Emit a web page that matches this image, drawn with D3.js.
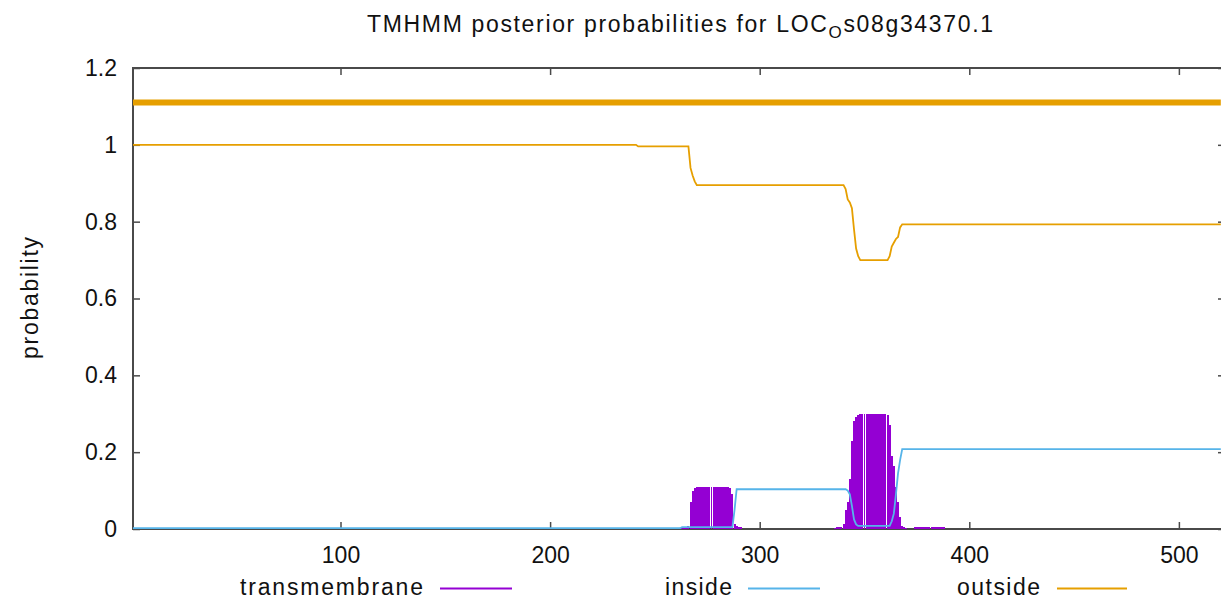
<!DOCTYPE html>
<html>
<head>
<meta charset="utf-8">
<script src="https://cdn.jsdelivr.net/npm/d3@7"></script>
<style>
  body { margin: 0; background: #ffffff; }
  svg { display: block; }
</style>
</head>
<body>
<svg id="chart" width="1221" height="600"></svg>
<script>
// ---- data -------------------------------------------------------------
const proteinId = "LOC_Os08g34370.1";
const seqLength = 520;
const xTicks = [100, 200, 300, 400, 500];
const yTicks = [0, 0.2, 0.4, 0.6, 0.8, 1, 1.2];
const yTickLabels = ["0", "0.2", "0.4", "0.6", "0.8", "1", "1.2"];
const seriesNames = ["transmembrane", "inside", "outside"];
const seriesColors = ["#9400D3", "#56B4E9", "#E69F00"];

// predicted topology, drawn as a bar above the curves
const topoRegions = [{ label: "outside", start: 1, end: 520 }];
const topoLevel = 1.11;

// transmembrane posterior per residue [residue, probability]; unlisted residues are 0
const tmProb = [
  [262, 0.003], [263, 0.004], [264, 0.005], [265, 0.005], [266, 0.008],
  [267, 0.07], [268, 0.1], [269, 0.108], [270, 0.11], [271, 0.11],
  [272, 0.11], [273, 0.11], [274, 0.11], [275, 0.11], [276, 0.11],
  [277, 0.11], [278, 0.11], [279, 0.11], [280, 0.11], [281, 0.11],
  [282, 0.11], [283, 0.11], [284, 0.11], [285, 0.11], [286, 0.108],
  [287, 0.09], [288, 0.012], [289, 0.008], [290, 0.006], [291, 0.004],
  [336, 0.003], [337, 0.004], [338, 0.004], [339, 0.006], [340, 0.012],
  [341, 0.05], [342, 0.07], [343, 0.13], [344, 0.23], [345, 0.28],
  [346, 0.292], [347, 0.298], [348, 0.299], [349, 0.299], [350, 0.299],
  [351, 0.299], [352, 0.299], [353, 0.299], [354, 0.299], [355, 0.299],
  [356, 0.299], [357, 0.299], [358, 0.299], [359, 0.299], [360, 0.299],
  [361, 0.296], [362, 0.27], [363, 0.19], [364, 0.165], [365, 0.11],
  [366, 0.07], [367, 0.03], [368, 0.008], [369, 0.005], [370, 0.003],
  [374, 0.004], [375, 0.004], [376, 0.004], [377, 0.004], [378, 0.004],
  [379, 0.004], [380, 0.004], [381, 0.004], [382, 0.004], [383, 0.004],
  [384, 0.004], [385, 0.004], [386, 0.004], [387, 0.004], [388, 0.004]
];

// inside posterior [residue, probability]
const insideProb = [
  [1, 0.002], [262, 0.002], [263, 0.005], [287, 0.005], [288, 0.05],
  [289, 0.1035], [341, 0.1035], [342, 0.1], [343, 0.09], [344, 0.06],
  [345, 0.025], [346, 0.012], [347, 0.008], [362, 0.008], [363, 0.02],
  [364, 0.04], [365, 0.09], [366, 0.145], [367, 0.18], [368, 0.208],
  [520, 0.208]
];

// outside posterior [residue, probability]
const outsideProb = [
  [1, 1.0], [241, 1.0], [242, 0.996], [266, 0.996], [267, 0.94],
  [268, 0.92], [269, 0.905], [270, 0.895], [340, 0.895], [341, 0.885],
  [342, 0.858], [343, 0.85], [344, 0.835], [345, 0.78], [346, 0.73],
  [347, 0.71], [348, 0.70], [361, 0.70], [362, 0.71], [363, 0.735],
  [364, 0.745], [365, 0.755], [366, 0.76], [367, 0.785], [368, 0.793],
  [520, 0.793]
];

// ---- layout -----------------------------------------------------------
const font = "'Liberation Sans', Arial, Helvetica, sans-serif";
const fontSize = 23;
const axisColor = "#4a4a4a";
const plot = { left: 133, right: 1225, top: 68, bottom: 529 };

const svg = d3.select("#chart");
svg.append("rect").attr("width", 1221).attr("height", 600).attr("fill", "#ffffff");

const x = d3.scaleLinear().domain([1, 522]).range([plot.left, plot.right]);
const y = d3.scaleLinear().domain([0, 1.2]).range([plot.bottom, plot.top]);

svg.append("clipPath").attr("id", "plot-clip")
  .append("rect")
  .attr("x", plot.left).attr("y", plot.top)
  .attr("width", plot.right - plot.left).attr("height", plot.bottom - plot.top);

// ---- axes (ticks point inward on all four sides) ------------------------
function styleAxis(g) {
  g.attr("font-family", font).attr("font-size", fontSize);
  g.select(".domain").remove();
  g.selectAll(".tick line").attr("stroke", axisColor).attr("stroke-width", 1.5);
  g.selectAll(".tick text").attr("fill", "#111");
}

const gBottom = svg.append("g")
  .attr("transform", `translate(0,${plot.bottom})`)
  .call(d3.axisBottom(x).tickValues(xTicks).tickSize(-7).tickFormat(d3.format("d")))
  .call(styleAxis);
gBottom.selectAll(".tick text").attr("y", 34).attr("dy", null);

svg.append("g")
  .attr("transform", `translate(0,${plot.top})`)
  .call(d3.axisTop(x).tickValues(xTicks).tickSize(-7).tickFormat(""))
  .call(styleAxis);

svg.append("g")
  .attr("transform", `translate(${plot.left},0)`)
  .call(d3.axisLeft(y).tickValues(yTicks).tickSize(-7).tickPadding(16)
    .tickFormat((d, i) => yTickLabels[i]))
  .call(styleAxis);

svg.append("g")
  .attr("transform", `translate(${plot.right},0)`)
  .call(d3.axisRight(y).tickValues(yTicks).tickSize(-7).tickFormat(""))
  .call(styleAxis);

svg.append("rect")
  .attr("x", plot.left).attr("y", plot.top)
  .attr("width", plot.right - plot.left).attr("height", plot.bottom - plot.top)
  .attr("fill", "none").attr("stroke", axisColor).attr("stroke-width", 2);

// ---- data layer -----------------------------------------------------------
const layer = svg.append("g").attr("clip-path", "url(#plot-clip)");

// transmembrane probability as impulses
const impulseWidth = 1.95;
layer.append("g")
  .attr("shape-rendering", "crispEdges")
  .selectAll("rect")
  .data(tmProb)
  .join("rect")
  .attr("x", d => x(d[0]) - impulseWidth / 2)
  .attr("width", impulseWidth)
  .attr("y", d => y(d[1]))
  .attr("height", d => y(0) - y(d[1]))
  .attr("fill", seriesColors[0]);

const line = d3.line().x(d => x(d[0])).y(d => y(d[1]));

layer.append("path")
  .datum(insideProb)
  .attr("d", line)
  .attr("fill", "none")
  .attr("stroke", seriesColors[1])
  .attr("stroke-width", 1.8)
  .attr("stroke-linejoin", "miter");

layer.append("path")
  .datum(outsideProb)
  .attr("d", line)
  .attr("fill", "none")
  .attr("stroke", seriesColors[2])
  .attr("stroke-width", 1.8)
  .attr("stroke-linejoin", "miter");

// topology bar
layer.selectAll("line.topo")
  .data(topoRegions)
  .join("line")
  .attr("class", "topo")
  .attr("x1", d => x(d.start))
  .attr("x2", d => x(d.end))
  .attr("y1", y(topoLevel))
  .attr("y2", y(topoLevel))
  .attr("stroke", d => seriesColors[seriesNames.indexOf(d.label)])
  .attr("stroke-width", 6);

// ---- title --------------------------------------------------------------
const [idHead, idTail] = proteinId.split("_");
const title = svg.append("text")
  .attr("x", 680).attr("y", 32)
  .attr("text-anchor", "middle")
  .attr("font-family", font).attr("font-size", fontSize)
  .attr("fill", "#111")
  .attr("textLength", 626);
title.append("tspan").text(`TMHMM posterior probabilities for ${idHead}`);
title.append("tspan").attr("dy", 6).attr("font-size", 17).text(idTail.charAt(0));
title.append("tspan").attr("dy", -6).text(idTail.slice(1));

// ---- y axis label ---------------------------------------------------------
svg.append("text")
  .attr("transform", "translate(38,298) rotate(-90)")
  .attr("text-anchor", "middle")
  .attr("font-family", font).attr("font-size", fontSize)
  .attr("fill", "#111")
  .attr("textLength", 122)
  .text("probability");

// ---- legend -----------------------------------------------------------------
const legendItems = [
  { name: seriesNames[0], color: seriesColors[0], textEnd: 423, textLen: 183, x1: 440, x2: 512 },
  { name: seriesNames[1], color: seriesColors[1], textEnd: 732, textLen: 67, x1: 748, x2: 820 },
  { name: seriesNames[2], color: seriesColors[2], textEnd: 1040, textLen: 83, x1: 1057, x2: 1127 }
];
const legend = svg.append("g");
legend.selectAll("text")
  .data(legendItems)
  .join("text")
  .attr("x", d => d.textEnd).attr("y", 595)
  .attr("text-anchor", "end")
  .attr("font-family", font).attr("font-size", fontSize)
  .attr("fill", "#111")
  .attr("textLength", d => d.textLen)
  .text(d => d.name);
legend.selectAll("line")
  .data(legendItems)
  .join("line")
  .attr("x1", d => d.x1).attr("x2", d => d.x2)
  .attr("y1", 588.5).attr("y2", 588.5)
  .attr("stroke", d => d.color)
  .attr("stroke-width", 2);
</script>
</body>
</html>
